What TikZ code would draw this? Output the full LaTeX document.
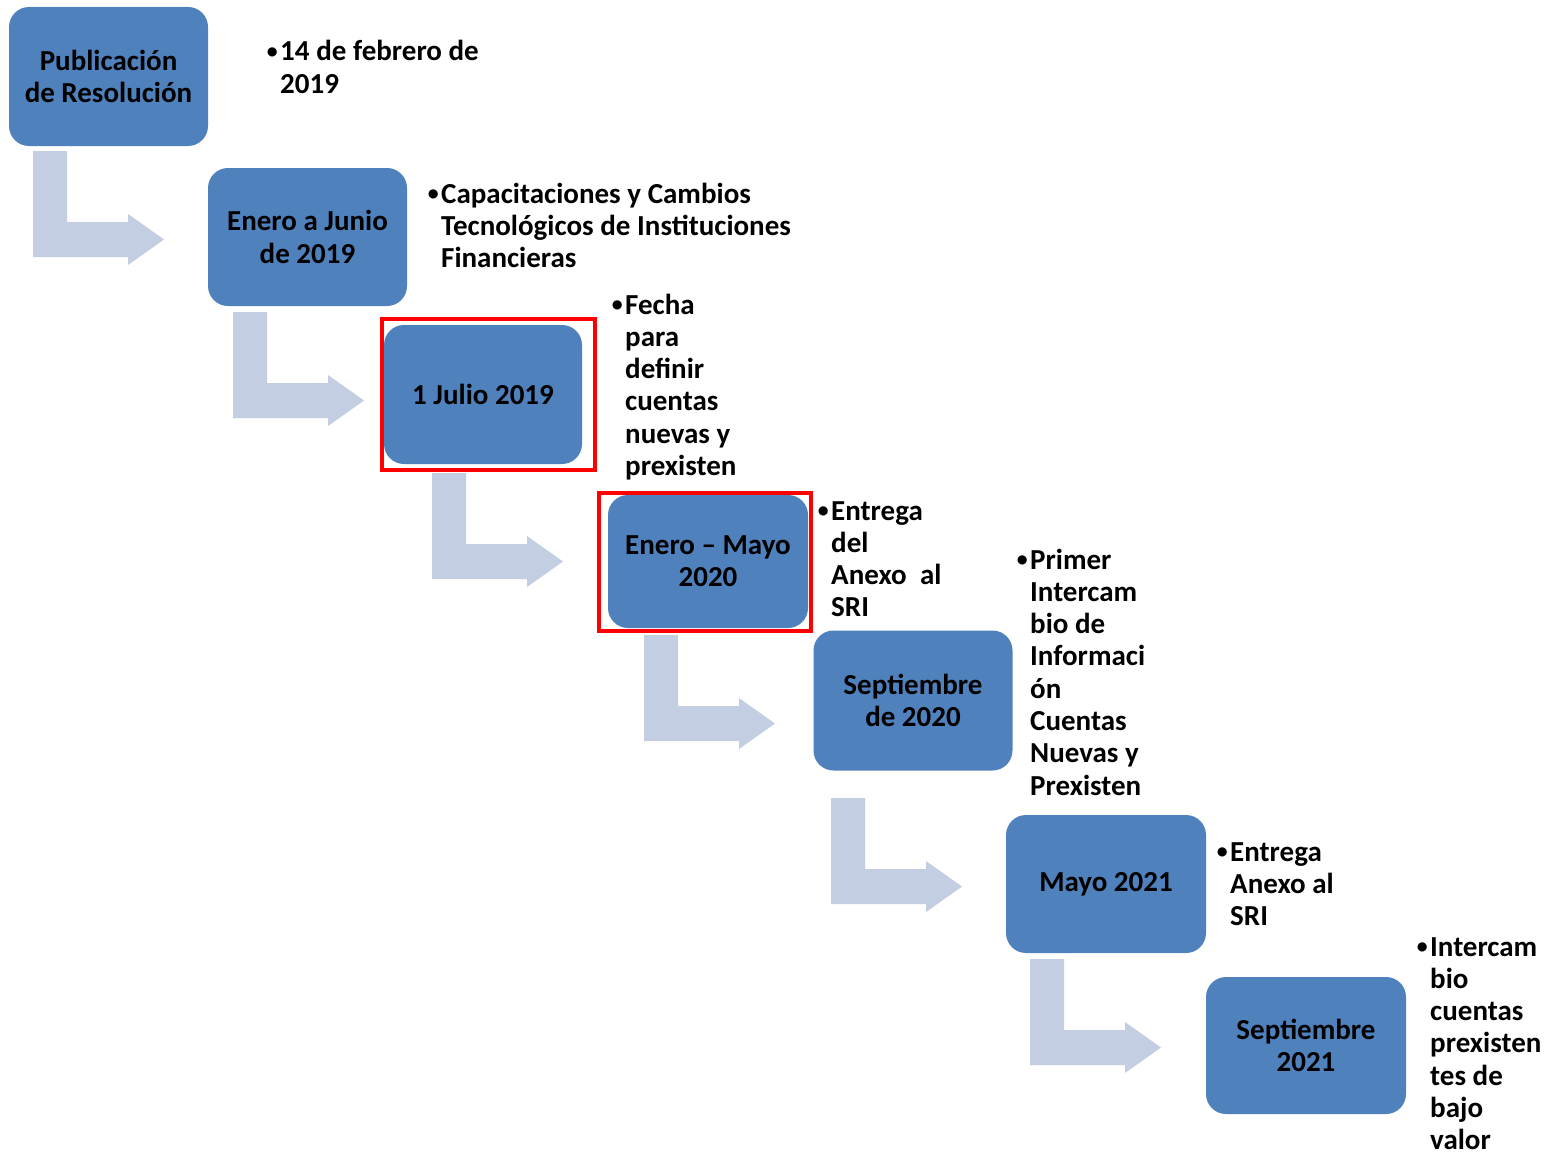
\documentclass[tikz,border=0pt]{standalone}
\usepackage{fontspec}
\setmainfont{Carlito}
\definecolor{boxblue}{HTML}{4F81BD}
\definecolor{arrowgray}{HTML}{C4CEE2}
\definecolor{framered}{HTML}{FF0000}
\newcommand{\nb}{\llap{\raisebox{0.18ex}{\scalebox{0.75}{•}}\hspace{2.5pt}}}
\newcommand{\tightsp}{\spaceskip=0.23em\relax}
\tikzset{
  stage/.style={fill=boxblue, draw=none, rounded corners=20pt, minimum width=199pt,
    minimum height=138pt, align=center, inner sep=0pt, text=black,
    font=\bfseries\fontsize{29}{32.3}\selectfont},
  note/.style={anchor=base west, align=left, text width=420pt, inner sep=0pt, text=black,
    font=\bfseries\fontsize{29}{32.3}\selectfont, execute at begin node=\tightsp},
  redframe/.style={draw=framered, line width=4pt},
  bentarrow/.style={fill=arrowgray, draw=none}
}
\newcommand{\bentArrow}[2]{%
  \fill[bentarrow] (#1,#2) -- ++(34,0) -- ++(0,71) -- ++(61,0) -- ++(0,-8)
    -- ++(36,25.5) -- ++(-36,25.5) -- ++(0,-8) -- ++(-95,0) -- cycle;}
\begin{document}
\begin{tikzpicture}[x=1pt,y=-1pt]
\useasboundingbox[fill=white] (0,0) rectangle (1562,1153);
% bent arrows
\bentArrow{33}{151}
\bentArrow{233}{312}
\bentArrow{432}{473}
\bentArrow{644}{635}
\bentArrow{831}{798}
\bentArrow{1030}{959}
% notes (drawn before boxes so boxes cover overflow)
\node[note] (n1) at (280,61) {\nb 14 de febrero de\\2019};
\node[note] (n2) at (441,203) {\nb Capacitaciones y Cambios\\Tecnológicos de Instituciones\\Financieras};
\node[note] (n3) at (625,314) {\nb Fecha\\para\\definir\\cuentas\\nuevas y\\prexisten};
\node[note] (n4) at (831,520) {\nb Entrega\\del\\Anexo\ \ al\\SRI};
\node[note] (n5) at (1030,569) {\nb Primer\\Intercam\\bio de\\Informaci\\ón\\Cuentas\\Nuevas y\\Prexisten};
\node[note] (n6) at (1230,861) {\nb Entrega\\Anexo al\\SRI};
\node[note] (n7) at (1430,956) {\nb Intercam\\bio\\cuentas\\prexisten\\tes de\\bajo\\valor};
% stages
\node[stage, minimum height=139pt] (b1) at (108.5,76.5) {Publicación\\de Resolución};
\node[stage] (b2) at (307.5,237) {Enero a Junio\\de 2019};
\node[stage, minimum width=198pt, minimum height=139pt] (b3) at (483,394.5) {1 Julio 2019};
\node[stage, minimum width=200pt, minimum height=133pt] (b4) at (708,561.5) {Enero – Mayo\\2020};
\node[stage, minimum height=140pt] (b5) at (913,700.5) {Septiembre\\de 2020};
\node[stage, minimum width=200pt] (b6) at (1106,884) {Mayo 2021};
\node[stage, minimum width=200pt, minimum height=137pt] (b7) at (1306,1045.5) {Septiembre\\2021};
% red highlight frames
\draw[redframe] (382,319) rectangle (595,470);
\draw[redframe] (599,493) rectangle (811,631);
\end{tikzpicture}
\end{document}
